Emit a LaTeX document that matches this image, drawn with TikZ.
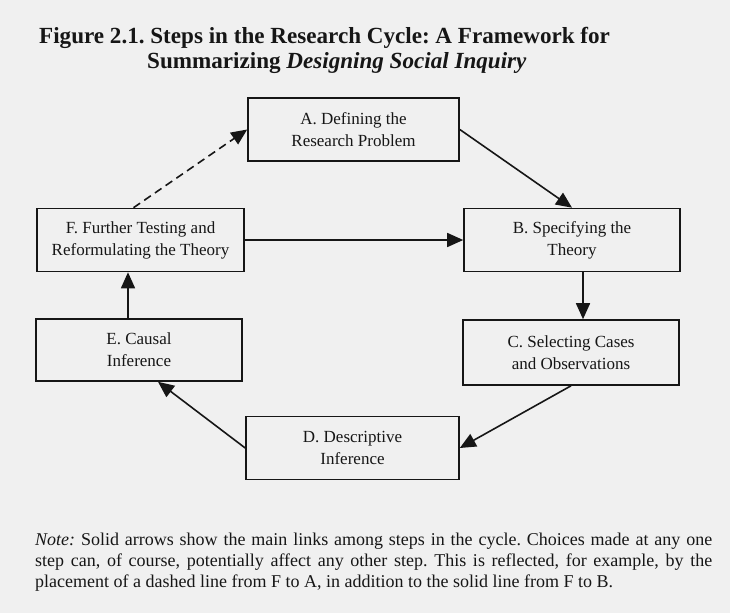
\documentclass[tikz,border=0pt]{standalone}
\usepackage{fontspec}
\setmainfont{Liberation Serif}
\usetikzlibrary{arrows.meta,positioning}
\definecolor{paper}{RGB}{240,240,240}
\definecolor{ink}{RGB}{22,22,22}
\frenchspacing

\begin{document}
\begin{tikzpicture}[
  x=1pt,y=-1pt,
  stepbox/.style={draw=ink,line width=1.6pt,fill=paper,minimum height=63pt,
    align=center,inner sep=2pt,text=ink,font=\fontsize{17}{22}\selectfont},
 % solid links between steps
  link/.style={draw=ink,line width=1.6pt,-{Triangle[length=16pt,width=14pt]}},
  hint/.style={link,dash pattern=on 8pt off 5pt} % the F to A line
]

% ---------------- page ----------------
\fill[paper] (0,0) rectangle (730,613);
\useasboundingbox (0,0) rectangle (730,613);

% ---------------- title ----------------
\node[anchor=base west,inner sep=0pt,text=ink,font=\fontsize{23.1}{26}\selectfont\bfseries] (title1) at (39,43)
  {Figure 2.1. Steps in the Research Cycle: A Framework for};
\node[anchor=base west,inner sep=0pt,text=ink,font=\fontsize{23.1}{26}\selectfont\bfseries] (title2) at (147,68)
  {Summarizing \textit{Designing Social Inquiry}};

% ---------------- steps ----------------
\node[stepbox,minimum width=211pt] (A) at (353.5,129.5) {A. Defining the\\Research Problem};
\node[stepbox,minimum width=216pt] (B) at (572,240) {B. Specifying the\\Theory};
\node[stepbox,minimum width=216pt,minimum height=65pt] (C) at (571,352.5) {C. Selecting Cases\\and Observations};
\node[stepbox,minimum width=213pt] (D) at (352.5,448) {D. Descriptive\\Inference};
\node[stepbox,minimum width=206pt,minimum height=62pt] (E) at (139,350) {E. Causal\\Inference};
\node[stepbox,minimum width=207pt] (F) at (140.5,240) {F. Further Testing and\\Reformulating the Theory};

% ---------------- links ----------------
\draw[link] (A.east) -- (B.north);
\draw[link] (F.east) -- (B.west);
\draw[link] ([xshift=11pt]B.south) -- ([xshift=12pt]C.north);
\draw[link] (C.south) -- (D.east);
\draw[link] (D.west) -- ([xshift=19pt]E.south);
\draw[link] ([xshift=-11pt]E.north) -- ([xshift=-12.5pt]F.south);
\draw[hint] ([xshift=-7pt]F.north) -- (A.west);

% ---------------- note ----------------
\node[anchor=base west,text width=677pt,align=justify,inner sep=0pt,text=ink,
  font=\fontsize{18}{21}\selectfont] (note) at (35,545)
  {\textit{Note:} Solid arrows show the main links among steps in the cycle. Choices made at any one\linebreak
   step can, of course, potentially affect any other step. This is reflected, for example, by the\linebreak
   placement of a dashed line from F to A, in addition to the solid line from F to B.};

\end{tikzpicture}
\end{document}
